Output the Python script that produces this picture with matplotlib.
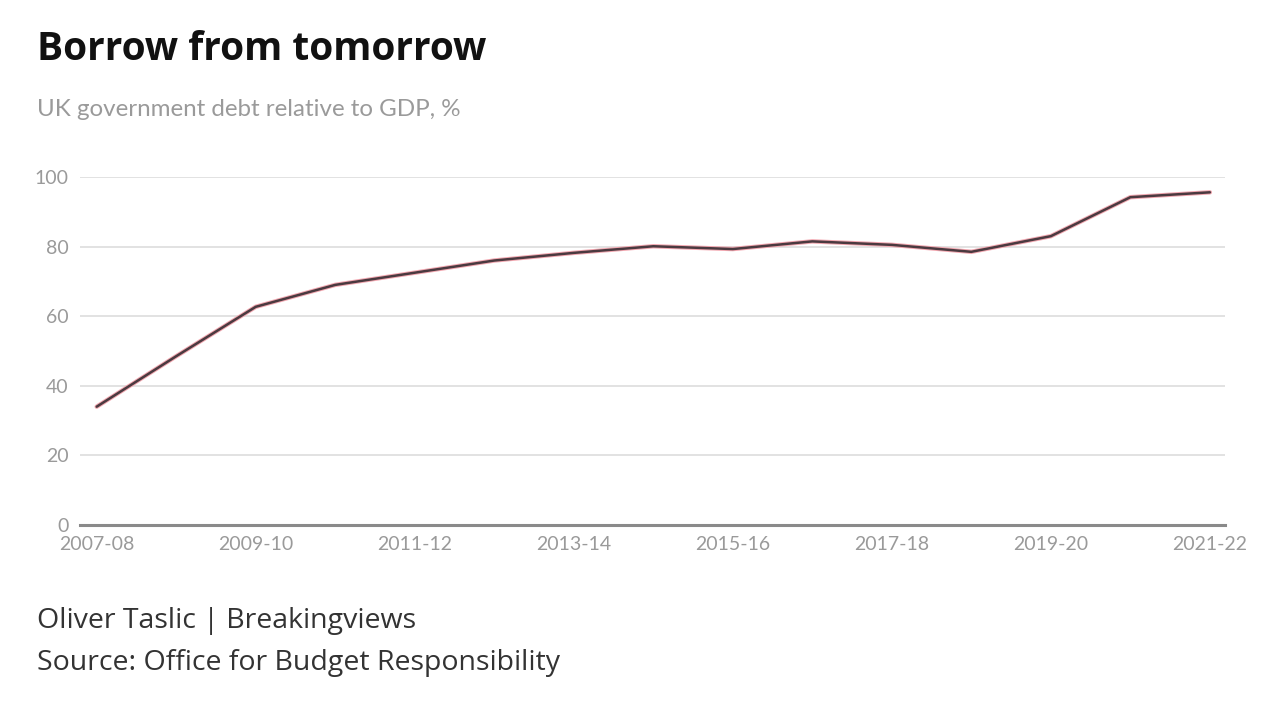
import matplotlib
matplotlib.use("Agg")
import matplotlib.pyplot as plt

# UK government debt relative to GDP, %
years = ['2007-08', '2008-09', '2009-10', '2010-11', '2011-12', '2012-13',
         '2013-14', '2014-15', '2015-16', '2016-17', '2017-18', '2018-19',
         '2019-20', '2020-21', '2021-22']
debt = [34.0, 48.5, 62.7, 69.0, 72.5, 76.0, 78.2, 80.1, 79.3, 81.5,
        80.5, 78.5, 83.0, 94.2, 95.6]
y_ticks = [0, 20, 40, 60, 80, 100]

plt.rcParams['font.family'] = ['Lato', 'DejaVu Sans']

fig = plt.figure(figsize=(12.8, 7.14), dpi=100)
fig.patch.set_facecolor('white')
ax = fig.add_axes([80/1280, 1-525/714, (1225-80)/1280, (525-177)/714])

x = list(range(len(years)))
ax.plot(x, debt, color='#f2a7b0', lw=3.2, solid_capstyle='round', clip_on=False, zorder=3)
ax.plot(x, debt, color='#4b3a40', lw=1.8, solid_capstyle='round', clip_on=False, zorder=4)

ax.set_xlim(-0.21, len(years) - 1 + 0.19)
ax.set_ylim(0, 100)
ax.set_yticks(y_ticks)
ax.set_yticklabels([str(v) for v in y_ticks])
ax.set_xticks(x[::2])
ax.set_xticklabels(years[::2])

for v in y_ticks[1:]:
    ax.axhline(v, color='#e2e2e2', lw=1.4, zorder=1)
ax.axhline(0, color='#8a8a8a', lw=2.2, zorder=2, clip_on=False)

for s in ax.spines.values():
    s.set_visible(False)
ax.tick_params(axis='both', length=0, labelsize=14, labelcolor='#9a9a9a')
ax.tick_params(axis='y', pad=8)
ax.tick_params(axis='x', pad=8)

fig.text(37/1280, 1-49/714, 'Borrow from tomorrow', fontsize=28, fontweight='bold',
         family=['Open Sans', 'DejaVu Sans'], color='#111111', va='center', ha='left')
fig.text(37/1280, 1-110/714, 'UK government debt relative to GDP, %', fontsize=17.4,
         color='#9a9a9a', va='center', ha='left')
fig.text(37/1280, 1-621/714, 'Oliver Taslic | Breakingviews', fontsize=20.5,
         family=['Open Sans', 'DejaVu Sans'], color='#333333', va='center', ha='left')
fig.text(37/1280, 1-663/714, 'Source: Office for Budget Responsibility', fontsize=20.5,
         family=['Open Sans', 'DejaVu Sans'], color='#333333', va='center', ha='left')

fig.savefig('out.png', dpi=100, facecolor='white')
